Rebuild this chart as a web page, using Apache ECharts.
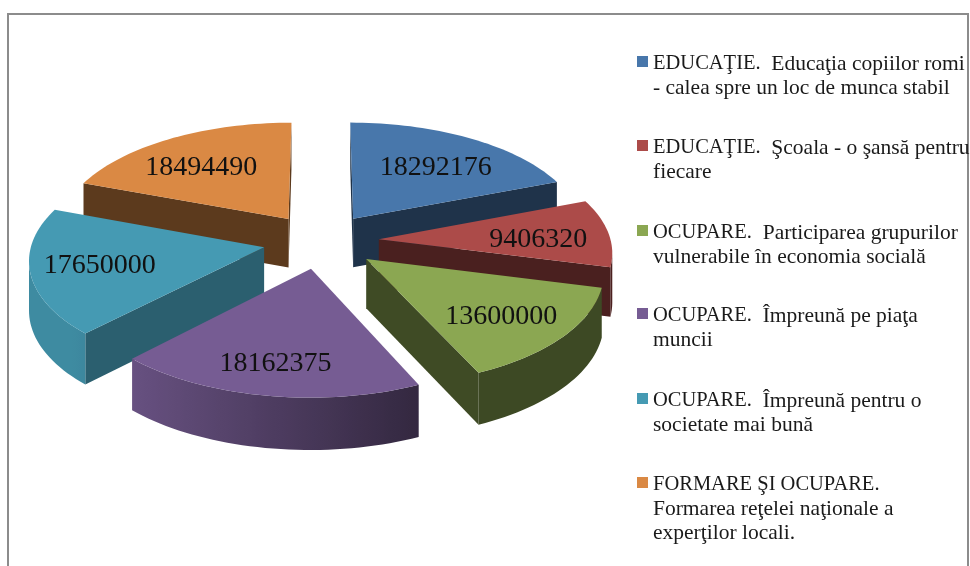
<!DOCTYPE html>
<html>
<head>
<meta charset="utf-8">
<style>html,body{margin:0;background:#fff}</style>
<script src="https://cdn.jsdelivr.net/npm/echarts@6/dist/echarts.min.js"></script>
</head>
<body>
<div id="chart" style="width:970px;height:566px;"></div>
<script>
var categories = [
    'EDUCAŢIE. Educaţia copiilor romi\n- calea spre un loc de munca stabil',
    'EDUCAŢIE. Şcoala - o şansă pentru\nfiecare',
    'OCUPARE. Participarea grupurilor\nvulnerabile în economia socială',
    'OCUPARE. Împreună pe piaţa\nmuncii',
    'OCUPARE. Împreună pentru o\nsocietate mai bună',
    'FORMARE ŞI OCUPARE.\nFormarea reţelei naţionale a\nexperţilor locali.'
]
var values = [18292176, 9406320, 13600000, 18162375, 17650000, 18494490]
var colors = ['#4877ab', '#ac4b49', '#8ba752', '#765c93', '#459ab3', '#da8944']
var wallShade = [0.43, 0.43, 0.45, 0.42, 0.62, 0.42]
var labelRadius = [0.63, 0.68, 0.75, 0.75, 0.72, 0.64]
var labelNudge = [[7, 1], [3, 5], [-10, 0], [-2, 2], [3, 0], [-10, 2]]
var drawOrder = [2, 3, 5, 6, 4, 1]
var legendLine1 = [64, 148, 233, 316, 401, 485]
var legendLines = [2, 2, 2, 2, 2, 3]

// flattened pie: centre, radii, perspective, explode, thickness
var cx = 321, cy = 241, rx = 232, ry = 110, persp = 0.1, explode = 0.25, thick = 49

var total = values.reduce(function (a, b) { return a + b }, 0)

function project(X, Y) {
    var s = 1 / (1 + persp * Y)
    return [cx + X * rx * s, cy - Y * ry * s, thick * Math.sqrt(s)]
}

function sliceAngles(index) {
    var start = 0
    for (var i = 0; i < index; i++) start += values[i] / total * Math.PI * 2
    return [start, start + values[index] / total * Math.PI * 2]
}

function darken(color, f) {
    var c = echarts.color.parse(color)
    return 'rgb(' + Math.round(c[0] * f) + ',' + Math.round(c[1] * f) + ',' + Math.round(c[2] * f) + ')'
}

function arcShade(a) {
    return Math.max(0.44, Math.min(0.9, 0.6 - 0.4 * Math.sin(a)))
}

function polygon(points, fill, z2) {
    return {
        type: 'polygon',
        z2: z2,
        shape: { points: points },
        style: { fill: fill, stroke: null }
    }
}

function wall(p, q) {
    return [[p[0], p[1]], [q[0], q[1]], [q[0], q[1] + q[2]], [p[0], p[1] + p[2]]]
}

function renderSlice(index) {
    return function (params, api) {
        var angles = sliceAngles(index)
        var mid = (angles[0] + angles[1]) / 2
        var ox = explode * Math.sin(mid), oy = explode * Math.cos(mid)
        var color = api.visual('color')
        var children = []

        var apex = project(ox, oy)
        var arc = [], arcAngles = []
        var steps = Math.ceil((angles[1] - angles[0]) / 0.03)
        for (var i = 0; i <= steps; i++) {
            var a = angles[0] + (angles[1] - angles[0]) * i / steps
            arc.push(project(ox + Math.sin(a), oy + Math.cos(a)))
            arcAngles.push(a)
        }

        // walls that run leftwards along the clockwise outline face the viewer
        var flat = darken(color, wallShade[index])
        if (arc[0][0] < apex[0]) children.push(polygon(wall(apex, arc[0]), flat, 1))
        if (apex[0] < arc[steps][0]) children.push(polygon(wall(arc[steps], apex), flat, 1))

        // the visible part of the rim is one polygon with a left-right gradient
        var run = []
        for (var n = 0; n < steps; n++) {
            if (arc[n + 1][0] < arc[n][0]) {
                if (!run.length) run.push(n)
                run.push(n + 1)
            }
        }
        if (run.length > 1) {
            var upper = run.map(function (k) { return [arc[k][0], arc[k][1]] })
            var lower = run.map(function (k) { return [arc[k][0], arc[k][1] + arc[k][2]] }).reverse()
            var xMax = arc[run[0]][0], xMin = arc[run[run.length - 1]][0]
            var stops = run.map(function (k) {
                return { offset: (arc[k][0] - xMin) / (xMax - xMin), color: darken(color, arcShade(arcAngles[k])) }
            }).reverse()
            children.push(polygon(upper.concat(lower),
                new echarts.graphic.LinearGradient(xMin, 0, xMax, 0, stops, true), 1))
        }

        children.push(polygon([[apex[0], apex[1]]].concat(arc.map(function (p) { return [p[0], p[1]] })), color, 2))

        var c = project(ox + labelRadius[index] * Math.sin(mid), oy + labelRadius[index] * Math.cos(mid))
        children.push({
            type: 'text',
            z2: 3,
            style: {
                x: c[0] + labelNudge[index][0], y: c[1] + labelNudge[index][1], text: String(api.value(0)),
                align: 'center', verticalAlign: 'middle',
                font: '28px "Liberation Serif"', fill: '#111'
            }
        })
        return { type: 'group', children: children }
    }
}

var chart = echarts.init(document.getElementById('chart'))
chart.setOption({
    animation: false,
    backgroundColor: '#fff',
    graphic: [{
        type: 'rect',
        silent: true,
        shape: { x: 8, y: 14, width: 960, height: 570 },
        style: { fill: 'none', stroke: '#8c8c8c', lineWidth: 2 }
    }],
    legend: categories.map(function (name, i) {
        var h = legendLines[i] * 24
        return {
            data: [name],
            left: 637,
            top: legendLine1[i] - 12,
            padding: 0,
            selectedMode: false,
            itemWidth: 11,
            itemHeight: h,
            itemGap: 0,
            // square sits next to the first line, not the middle of the block
            icon: 'path://M0 0h0zM0 4h11v11h-11zM0 ' + h + 'h0z',
            // capitals run narrower than the lower case in the original
            formatter: function (n) {
                return n.replace(/^[A-ZŞŢ ]+\./, '{caps|$&} ')
            },
            textStyle: {
                fontFamily: 'Liberation Serif',
                fontSize: 21.5,
                lineHeight: 24,
                color: '#1a1a1a',
                rich: {
                    caps: { fontFamily: 'Liberation Serif', fontSize: 20.5, lineHeight: 24, color: '#1a1a1a' }
                }
            }
        }
    }),
    series: categories.map(function (name, i) {
        return {
            type: 'custom',
            name: name,
            coordinateSystem: 'none',
            z: drawOrder[i],
            itemStyle: { color: colors[i] },
            renderItem: renderSlice(i),
            data: [[values[i]]]
        }
    })
})
</script>
</body>
</html>
